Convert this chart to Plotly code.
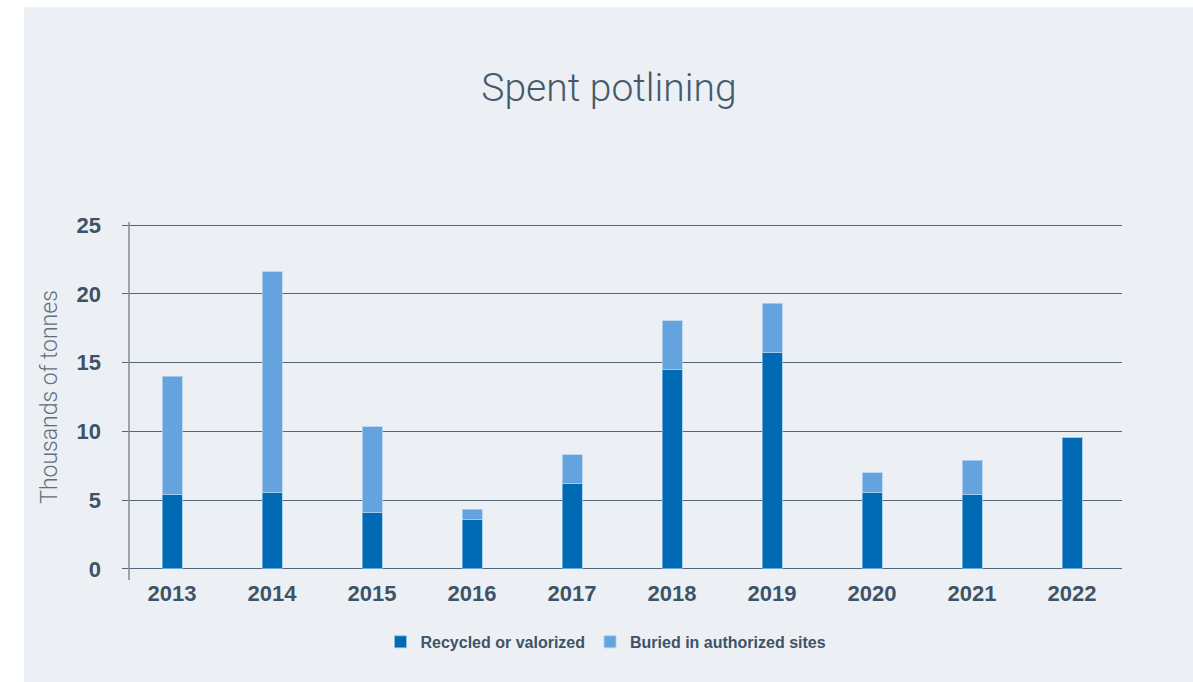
import plotly.graph_objects as go

years = ["2013", "2014", "2015", "2016", "2017", "2018", "2019", "2020", "2021", "2022"]
recycled = [5.43, 5.55, 4.12, 3.58, 6.2, 14.48, 15.77, 5.57, 5.43, 9.57]
buried = [8.57, 16.05, 6.22, 0.76, 2.11, 3.57, 3.54, 1.41, 2.47, 0.0]
y_ticks = [0, 5, 10, 15, 20, 25]

W, H = 1193, 682
L, R = 122, 1122
pad = 0.15
T, B = 225 - pad * 13.76, 569 + pad * 13.76

dark = "#006ab5"
light = "#65a3de"
txt = "#3e5367"

fig = go.Figure()
fig.add_trace(go.Bar(x=years, y=recycled, name="Recycled or valorized",
                     marker=dict(color=dark, line=dict(color="rgba(150,195,235,0.7)", width=1))))
fig.add_trace(go.Bar(x=years, y=buried, name="Buried in authorized sites",
                     marker=dict(color=light, line=dict(color="rgba(180,210,240,0.8)", width=1))))

# gray background panel
fig.add_shape(type="rect", xref="paper", yref="paper",
              x0=(24 - L) / (R - L), x1=(W - L) / (R - L),
              y0=(B - H) / (B - T), y1=(B - 7) / (B - T),
              fillcolor="#ecf0f4", line=dict(width=0), layer="below")
# vertical axis line
fig.add_shape(type="line", xref="paper", yref="paper", x0=7 / (R - L), x1=7 / (R - L),
              y0=(B - 580) / (B - T), y1=(B - 222) / (B - T),
              line=dict(color="#7f8c98", width=1.5))

fig.update_layout(
    width=W, height=H,
    margin=dict(l=L, r=W - R, t=T, b=H - B, pad=0),
    paper_bgcolor="white", plot_bgcolor="rgba(0,0,0,0)",
    barmode="stack", bargap=0.8,
    title=dict(text="Spent potlining", x=609 / W, xanchor="center",
               y=1 - 87 / H, yanchor="middle",
               font=dict(family="Roboto, Liberation Sans, Arial", size=39, color="#465a6c", weight=300)),
    showlegend=True,
    legend=dict(orientation="h", x=(606 - L) / (R - L), xanchor="center",
                y=(B - 642) / (B - T), yanchor="middle",
                font=dict(family="Liberation Sans, Arial", size=16, color=txt, weight="bold"),
                bgcolor="rgba(0,0,0,0)", traceorder="normal", itemwidth=30),
    xaxis=dict(range=[-0.5, 9.5], showgrid=False, showline=False, zeroline=False,
               ticks="", ticklabelstandoff=7,
               tickfont=dict(family="Liberation Sans, Arial", size=22, color=txt, weight="bold")),
    yaxis=dict(range=[-pad, 25 + pad], tickvals=y_ticks, showgrid=True, gridcolor="#53667a", gridwidth=1,
               zeroline=False, showline=False, ticks="", ticklabelstandoff=20,
               tickfont=dict(family="Liberation Sans, Arial", size=22, color=txt, weight="bold"),
               title=dict(text="Thousands of tonnes", standoff=12,
                          font=dict(family="Roboto, Liberation Sans, Arial", size=23, color="#5f6f7e", weight=300))),
)

fig.write_html("out.html")
